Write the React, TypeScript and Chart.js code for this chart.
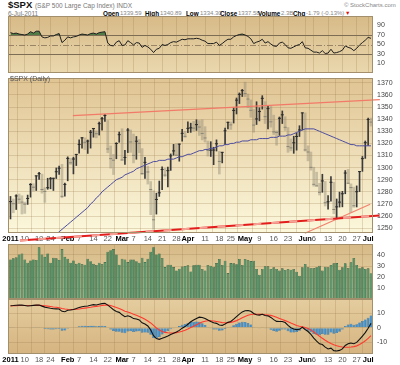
import React, { useEffect, useRef } from "react";
import { Chart, registerables } from "chart.js";
Chart.register(...registerables);

const FONT = '"Liberation Sans", Arial, sans-serif';

// ---------- axis ticks ----------
const tickIdx = [0, 5, 10, 14, 20, 24, 29, 34, 39, 43, 48, 53, 58, 62, 68, 73, 77, 82, 87, 92, 97, 103, 106, 111, 116, 121, 125];
const tickLabels = ["2011", "10", "18", "24", "Feb", "7", "14", "22", "Mar", "7", "14", "21", "28", "Apr", "11", "18", "25", "May", "9", "16", "23", "Jun", "6", "13", "20", "27", "Jul"];
const boldLabels = ["2011", "Feb", "Mar", "Apr", "May", "Jun", "Jul"];
const rsiTicks = [10, 30, 50, 70, 90];
const priceTicks = [1250, 1260, 1270, 1280, 1290, 1300, 1310, 1320, 1330, 1340, 1350, 1360, 1370];
const volTicks = [10, 20, 30, 40];
const macdTicks = [-10, 0, 10];
const X_MIN = -0.87;
const X_MAX = 126.7;

// ---------- price data (daily, 3-Jan-2011 .. 5-Jul-2011) ----------
const prevClose = 1257.6;
const highs = [1276.2, 1274.1, 1277.6, 1278.2, 1276.8, 1271.5, 1277.3, 1286.9, 1286.7, 1293.2,
  1296.1, 1294.6, 1283.4, 1291.2, 1291.9, 1291.3, 1299.7, 1301.3, 1302.7, 1287.2,
  1308.9, 1307.6, 1308.6, 1311.0, 1322.9, 1324.9, 1324.5, 1322.8, 1330.8, 1332.1,
  1330.4, 1337.6, 1341.5, 1344.1, 1338.9, 1317.9, 1310.9, 1320.6, 1329.4, 1332.1,
  1314.2, 1332.3, 1331.1, 1327.7, 1325.7, 1323.2, 1315.7, 1308.4, 1301.2, 1288.5,
  1280.9, 1278.9, 1288.9, 1300.6, 1299.4, 1300.5, 1311.3, 1319.2, 1319.7, 1319.5,
  1331.7, 1329.8, 1337.9, 1336.7, 1338.2, 1339.5, 1338.8, 1339.5, 1333.8, 1321.9,
  1321.4, 1316.8, 1322.9, 1313.4, 1312.7, 1332.7, 1337.5, 1337.6, 1349.6, 1357.5,
  1361.7, 1364.6, 1370.6, 1360.8, 1355.9, 1348.0, 1354.4, 1349.4, 1359.4, 1354.5,
  1351.1, 1350.5, 1343.3, 1330.4, 1341.8, 1346.8, 1342.0, 1333.1, 1323.7, 1325.9,
  1328.5, 1334.6, 1345.2, 1345.2, 1318.0, 1312.9, 1300.3, 1296.2, 1287.0, 1294.5,
  1288.6, 1277.0, 1292.5, 1287.9, 1274.1, 1279.8, 1280.4, 1297.6, 1298.6, 1286.6,
  1283.9, 1284.9, 1296.8, 1309.2, 1322.0, 1341.0, 1340.9];
const lows = [1257.6, 1262.7, 1265.4, 1270.4, 1261.7, 1262.2, 1269.6, 1275.6, 1280.5, 1281.1,
  1290.3, 1278.9, 1271.3, 1282.1, 1282.5, 1281.1, 1291.0, 1294.4, 1275.1, 1276.5,
  1289.1, 1302.6, 1294.8, 1301.7, 1311.9, 1316.0, 1314.9, 1311.7, 1316.1, 1325.1,
  1324.6, 1326.9, 1331.0, 1338.1, 1312.3, 1299.6, 1294.3, 1307.3, 1320.9, 1306.1,
  1302.6, 1312.4, 1312.6, 1303.9, 1306.9, 1312.3, 1294.2, 1291.0, 1286.4, 1261.1,
  1249.1, 1261.6, 1276.2, 1281.7, 1292.7, 1284.1, 1297.7, 1310.2, 1310.2, 1305.3,
  1321.9, 1325.0, 1328.9, 1329.1, 1330.0, 1330.7, 1326.6, 1322.9, 1321.1, 1309.5,
  1309.2, 1302.4, 1313.7, 1294.7, 1303.9, 1319.1, 1332.0, 1331.5, 1336.8, 1344.3,
  1352.9, 1358.7, 1358.6, 1349.5, 1341.5, 1329.2, 1335.6, 1338.6, 1348.3, 1336.4,
  1332.0, 1333.4, 1327.3, 1318.5, 1326.6, 1336.4, 1330.7, 1312.6, 1313.9, 1311.8,
  1314.4, 1325.7, 1331.1, 1313.7, 1305.6, 1297.9, 1284.7, 1284.7, 1277.4, 1279.6,
  1268.3, 1265.6, 1272.2, 1261.9, 1258.1, 1267.4, 1267.6, 1278.4, 1286.8, 1262.9,
  1267.2, 1267.5, 1280.2, 1296.9, 1307.6, 1318.3, 1334.3];
const closes = [1271.9, 1270.2, 1276.6, 1273.9, 1271.5, 1269.8, 1274.5, 1286.0, 1283.8, 1293.2,
  1295.0, 1281.9, 1280.3, 1283.4, 1290.8, 1291.2, 1296.6, 1299.5, 1276.3, 1286.1,
  1307.6, 1304.0, 1307.1, 1310.9, 1319.1, 1324.6, 1320.9, 1321.9, 1329.2, 1332.3,
  1328.0, 1336.3, 1340.4, 1343.0, 1315.4, 1307.4, 1306.1, 1319.9, 1327.2, 1306.3,
  1308.4, 1331.0, 1321.2, 1310.1, 1321.8, 1320.0, 1295.1, 1304.3, 1296.4, 1281.9,
  1256.9, 1273.7, 1279.2, 1298.4, 1293.8, 1297.5, 1309.7, 1313.8, 1310.2, 1319.4,
  1328.3, 1325.8, 1332.4, 1332.9, 1332.6, 1335.5, 1333.5, 1328.2, 1324.5, 1314.2,
  1314.4, 1314.5, 1319.7, 1305.1, 1312.6, 1330.4, 1337.4, 1335.3, 1347.2, 1355.7,
  1360.5, 1363.6, 1361.2, 1356.6, 1347.3, 1335.1, 1340.2, 1346.3, 1357.2, 1342.1,
  1348.7, 1337.8, 1329.5, 1329.0, 1340.7, 1343.6, 1333.3, 1317.4, 1316.3, 1320.5,
  1325.7, 1331.1, 1345.2, 1314.6, 1312.9, 1300.2, 1286.2, 1284.9, 1279.6, 1289.0,
  1271.0, 1271.8, 1287.9, 1265.4, 1267.6, 1271.5, 1278.4, 1295.5, 1287.1, 1283.5,
  1268.5, 1280.1, 1296.7, 1307.4, 1320.6, 1339.7, 1337.6];
const ma50 = [1219, 1221, 1222, 1224, 1225, 1227, 1228, 1230, 1231, 1233,
  1235, 1236, 1238, 1240, 1241, 1243, 1245, 1247, 1249, 1251,
  1253, 1255, 1257, 1259, 1261, 1263, 1265, 1267, 1270, 1272,
  1275, 1277, 1280, 1282, 1284, 1286, 1288, 1290, 1291, 1292,
  1294, 1295, 1296, 1297, 1299, 1300, 1301, 1302, 1303, 1304,
  1305, 1305, 1306, 1306, 1306, 1307, 1307, 1307, 1308, 1309,
  1309, 1310, 1311, 1311, 1312, 1313, 1314, 1314, 1315, 1315,
  1316, 1316, 1317, 1318, 1318, 1319, 1319, 1320, 1320, 1321,
  1321, 1322, 1322, 1322, 1323, 1323, 1323, 1324, 1324, 1324,
  1324, 1325, 1325, 1325, 1326, 1326, 1326, 1327, 1327, 1328,
  1329, 1330, 1331, 1332, 1332, 1332, 1332, 1331, 1330, 1329,
  1328, 1327, 1326, 1325, 1324, 1323, 1322, 1321, 1320, 1319,
  1319, 1318, 1318, 1318, 1318, 1318, 1318];
// trend lines drawn on the price panel (x = day index, y = price)
const resistX = [21.8, 129.1];
const resistY = [1343, 1356.2];
const supportX = [3.3, 129.1];
const supportY = [1239.8, 1260.4];
const riseX = [102.9, 125.7];
const riseY = [1245.8, 1269.8];

// ---------- volume (x 100M) ----------
const volumes = [35.9, 37, 38, 40.5, 41.4, 35.8, 33, 35, 36, 35.5,
  47, 40.5, 38.3, 41.4, 33, 37.6, 37, 35.5, 45.4, 38.3,
  36.7, 33, 35, 32, 33, 31.8, 31.2, 36.7, 34.3, 32,
  31, 33, 31.8, 33.6, 43, 44.4, 45.4, 40.5, 31.2, 36.7,
  35.8, 33.6, 35.8, 36, 34.3, 33, 37.6, 33.6, 36.7, 43,
  47, 40.5, 41.4, 37.3, 29, 31.2, 31.2, 29, 25.9, 27.5,
  29.6, 30, 30.6, 25, 30.6, 31.2, 31.2, 27.3, 25.8, 30.9,
  30.3, 29.4, 32.7, 36.4, 30.9, 34.8, 23.6, 32.7, 32.4, 31.5,
  36.4, 30.9, 36.4, 35.5, 34.5, 34.8, 27.3, 22.1, 27.3, 29.7,
  29.7, 27.3, 28.8, 27.3, 25.8, 27.9, 26.4, 27.3, 26.7, 27.3,
  24.8, 21.2, 28.8, 31.8, 28.8, 27.9, 28.2, 28.8, 30.3, 25.8,
  29.4, 28.8, 30.9, 32.4, 32.7, 26.7, 28.8, 32.4, 28.2, 33.3,
  37.3, 30.9, 27.9, 28.8, 27.3, 27.9, 23.5];

// ---------- RSI(14) ----------
const rsi = [75, 73, 74, 72, 71, 70, 72, 77, 74, 78,
  78, 66, 64, 65, 68, 68, 71, 73, 54, 59,
  66, 64, 66, 67, 70, 72, 71, 70, 73, 74,
  72, 75, 76, 77, 53, 48, 47, 55, 58, 48,
  49, 58, 54, 49, 54, 53, 44, 48, 45, 40,
  33, 40, 42, 50, 48, 50, 54, 56, 55, 58,
  61, 60, 62, 62, 62, 63, 62, 59, 57, 52,
  52, 52, 55, 48, 52, 57, 61, 61, 66, 69,
  71, 72, 70, 67, 62, 52, 55, 57, 61, 53,
  56, 51, 47, 46, 53, 55, 50, 43, 42, 45,
  48, 50, 56, 43, 42, 38, 34, 34, 32, 37,
  31, 32, 40, 32, 33, 35, 38, 47, 44, 42,
  37, 42, 49, 54, 59, 65, 63];

// ---------- MACD(12,26,9) ----------
const macdLine = [15.2, 15.3, 15.5, 15.6, 15.6, 15.3, 15.0, 15.2, 15.4, 15.6,
  15.7, 14.9, 14.2, 13.8, 13.4, 13.1, 13.0, 12.9, 11.3, 11.0,
  12.0, 12.2, 12.6, 13.2, 13.9, 14.5, 14.8, 15.0, 15.5, 15.9,
  15.7, 16.2, 16.6, 16.8, 15.6, 14.0, 12.4, 11.2, 10.6, 8.9,
  7.6, 8.2, 7.6, 6.3, 6.0, 5.4, 3.4, 2.6, 1.2, -1.5,
  -5.5, -7.5, -8.0, -7.3, -6.5, -5.7, -4.6, -3.8, -3.0, -1.8,
  -0.3, 0.8, 2.4, 4.1, 5.3, 6.4, 7.3, 7.0, 6.4, 5.3,
  4.3, 3.4, 3.0, 1.9, 1.6, 2.6, 3.7, 4.3, 5.9, 7.7,
  9.4, 10.9, 11.7, 11.9, 11.3, 9.8, 9.0, 8.7, 9.3, 8.4,
  8.2, 7.1, 5.6, 4.4, 4.3, 4.3, 3.6, 1.6, 0.0, -0.9,
  -1.3, -1.1, 0.3, -1.2, -2.6, -4.6, -7.2, -9.2, -11.1, -11.6,
  -13.4, -14.6, -14.1, -15.8, -16.0, -15.6, -14.6, -12.2, -11.1, -10.5,
  -11.0, -10.1, -8.0, -5.8, -3.4, -0.4, 3.0];
const signalLine = [15.0, 15.1, 15.2, 15.3, 15.3, 15.3, 15.3, 15.3, 15.3, 15.4,
  15.5, 15.3, 15.1, 14.9, 14.6, 14.3, 14.1, 13.8, 13.3, 12.9,
  12.7, 12.6, 12.6, 12.7, 12.9, 13.2, 13.5, 13.8, 14.1, 14.5,
  14.7, 15.0, 15.3, 15.6, 15.6, 15.3, 14.7, 14.0, 13.3, 12.4,
  11.4, 10.8, 10.1, 9.3, 8.6, 7.8, 6.8, 5.8, 4.6, 3.3,
  1.6, -0.2, -1.6, -2.6, -3.2, -3.5, -3.6, -3.6, -3.4, -3.0,
  -2.4, -1.7, -0.9, 0.1, 1.1, 2.1, 3.1, 3.9, 4.5, 4.8,
  4.8, 4.6, 4.3, 3.9, 3.5, 3.4, 3.5, 3.7, 4.2, 4.9,
  5.8, 6.8, 7.8, 8.6, 9.1, 9.3, 9.3, 9.2, 9.2, 9.0,
  8.8, 8.5, 7.9, 7.2, 6.4, 5.6, 4.9, 4.1, 3.2, 2.4,
  1.6, 1.0, 0.6, 0.1, -0.6, -1.5, -2.9, -4.4, -5.9, -7.3,
  -8.6, -9.8, -10.8, -11.7, -12.4, -12.9, -13.3, -13.4, -13.4, -13.3,
  -13.0, -12.5, -11.6, -10.4, -9.0, -7.3, -5.5];
const macdHist = [0.2, 0.2, 0.3, 0.3, 0.3, 0.0, -0.3, -0.1, 0.1, 0.2,
  0.2, -0.4, -0.9, -1.1, -1.2, -1.2, -1.1, -0.9, -2.0, -1.9,
  -0.7, -0.4, 0.0, 0.5, 1.0, 1.3, 1.3, 1.2, 1.4, 1.4,
  1.0, 1.2, 1.3, 1.2, 0.0, -1.3, -2.3, -2.8, -2.7, -3.5,
  -3.8, -2.6, -2.5, -3.0, -2.6, -2.4, -3.4, -3.2, -3.4, -4.8,
  -7.1, -7.3, -6.4, -4.7, -3.3, -2.2, -1.0, -0.2, 0.4, 1.2,
  2.1, 2.5, 3.3, 4.0, 4.2, 4.3, 4.2, 3.1, 1.9, 0.5,
  -0.5, -1.2, -1.3, -2.0, -1.9, -0.8, 0.2, 0.6, 1.7, 2.8,
  3.6, 4.1, 3.9, 3.3, 2.2, 0.5, -0.3, -0.5, 0.1, -0.6,
  -0.6, -1.4, -2.3, -2.8, -2.1, -1.3, -1.3, -2.5, -3.2, -3.3,
  -2.9, -2.1, -0.3, -1.3, -2.0, -3.1, -4.3, -4.8, -5.2, -4.3,
  -4.8, -4.8, -3.3, -4.1, -3.6, -2.7, -1.3, 1.2, 2.3, 2.8,
  2.0, 2.4, 3.6, 4.6, 5.6, 6.9, 8.5];

// ---------- helpers ----------
const pts = (arr: number[]) => arr.map((v, i) => ({ x: i, y: v }));
const pair = (xs: number[], ys: number[]) => xs.map((x, i) => ({ x, y: ys[i] }));

function xScale(showLabels: boolean) {
  return {
    type: "linear",
    min: X_MIN,
    max: X_MAX,
    offset: false,
    afterBuildTicks: (axis: any) => {
      axis.ticks = tickIdx.map((v) => ({ value: v }));
    },
    ticks: {
      display: showLabels,
      autoSkip: false,
      maxRotation: 0,
      minRotation: 0,
      padding: 1,
      callback: (_v: any, i: number) => tickLabels[i],
      font: (c: any) => ({
        family: FONT,
        size: 7.5,
        weight: boldLabels.includes(tickLabels[c.index]) ? "bold" : "normal",
      }),
      color: (c: any) => (boldLabels.includes(tickLabels[c.index]) ? "#000" : "#555"),
    },
    grid: { color: "rgba(150,120,70,0.25)", drawTicks: false, lineWidth: 1 },
    border: { display: false },
    afterFit: (axis: any) => {
      axis.height = showLabels ? 11 : 0;
      axis.paddingLeft = 0;
      axis.paddingRight = 0;
    },
  };
}

function yScale(min: number, max: number, ticks: number[], grid: boolean) {
  return {
    position: "right",
    min,
    max,
    afterBuildTicks: (axis: any) => {
      axis.ticks = ticks.map((v) => ({ value: v }));
    },
    ticks: {
      font: { family: FONT, size: 7 },
      color: "#444",
      padding: 4,
      callback: (v: any) => String(v),
    },
    grid: { display: grid, color: "rgba(150,120,70,0.25)", drawTicks: false },
    border: { display: false },
    afterFit: (axis: any) => {
      axis.width = 27;
      axis.paddingTop = 0;
      axis.paddingBottom = 0;
    },
  };
}

function panelPlugin(top: string, bottom: string) {
  return {
    id: "panelBg",
    beforeDraw(chart: any) {
      const { ctx, chartArea: a } = chart;
      const g = ctx.createLinearGradient(0, a.top, 0, a.bottom);
      g.addColorStop(0, top);
      g.addColorStop(1, bottom);
      ctx.save();
      ctx.fillStyle = g;
      ctx.fillRect(a.left, a.top, a.right - a.left, a.bottom - a.top);
      ctx.restore();
    },
    afterDraw(chart: any) {
      const { ctx, chartArea: a } = chart;
      ctx.save();
      ctx.strokeStyle = "#a48f6c";
      ctx.lineWidth = 1;
      ctx.strokeRect(a.left + 0.5, a.top + 0.5, a.right - a.left - 1, a.bottom - a.top - 1);
      ctx.restore();
    },
  };
}

const rsiRefPlugin = {
  id: "rsiRef",
  beforeDatasetsDraw(chart: any) {
    const { ctx, chartArea: a, scales } = chart;
    const y = scales.y;
    const lines: [number, number[], string][] = [
      [70, [], "#7e6d55"],
      [30, [], "#7e6d55"],
      [50, [6, 2, 1, 2], "#9a8466"],
    ];
    ctx.save();
    ctx.lineWidth = 1;
    lines.forEach(([v, dash, col]) => {
      const py = Math.round(y.getPixelForValue(v)) + 0.5;
      ctx.strokeStyle = col;
      ctx.setLineDash(dash);
      ctx.beginPath();
      ctx.moveTo(a.left, py);
      ctx.lineTo(a.right, py);
      ctx.stroke();
    });
    ctx.restore();
  },
};

const baseOptions = {
  responsive: false,
  animation: false,
  events: [],
  layout: { padding: { left: 8, right: 0, top: 0, bottom: 0 } },
  plugins: { legend: { display: false }, tooltip: { enabled: false } },
};

export default function App() {
  const rsiRef = useRef<HTMLCanvasElement>(null);
  const priceRef = useRef<HTMLCanvasElement>(null);
  const volRef = useRef<HTMLCanvasElement>(null);
  const macdRef = useRef<HTMLCanvasElement>(null);

  useEffect(() => {
    const charts: Chart[] = [];

    charts.push(
      new Chart(rsiRef.current as HTMLCanvasElement, {
        type: "line",
        data: {
          datasets: [
            {
              data: pts(rsi),
              borderColor: "#1e1e1e",
              borderWidth: 1,
              pointRadius: 0,
              tension: 0,
              fill: { target: { value: 70 }, above: "rgba(55,110,55,0.85)", below: "rgba(0,0,0,0)" },
            },
          ],
        },
        options: {
          ...baseOptions,
          scales: { x: xScale(false), y: yScale(-10, 110, rsiTicks, false) },
        } as any,
        plugins: [panelPlugin("#d7ba87", "#ead8ae"), rsiRefPlugin],
      } as any)
    );

    const upBars: any[] = [];
    const downBars: any[] = [];
    const tickColors: string[] = [];
    closes.forEach((c, i) => {
      const prev = i === 0 ? prevClose : closes[i - 1];
      const bar = { x: i, y: [lows[i], highs[i]] };
      if (c >= prev) {
        upBars.push(bar);
        tickColors.push("#2a2a2a");
      } else {
        downBars.push(bar);
        tickColors.push("#8b8677");
      }
    });

    charts.push(
      new Chart(priceRef.current as HTMLCanvasElement, {
        type: "bar",
        data: {
          datasets: [
            {
              type: "line",
              data: pair(resistX, resistY),
              borderColor: "#f27a68",
              borderWidth: 1.3,
              pointRadius: 0,
              clip: false,
              order: 1,
            },
            {
              type: "line",
              data: pair(supportX, supportY),
              borderColor: "#f4a295",
              borderWidth: 2,
              borderDash: [8, 10],
              pointRadius: 0,
              clip: false,
              order: 0,
            },
            {
              type: "line",
              data: pair(supportX, supportY),
              borderColor: "#e31c1c",
              borderWidth: 2,
              pointRadius: 0,
              clip: false,
              order: 1,
            },
            {
              type: "line",
              data: pair(riseX, riseY),
              borderColor: "#f2806e",
              borderWidth: 1.2,
              pointRadius: 0,
              clip: false,
              order: 1,
            },
            {
              type: "line",
              data: pts(ma50),
              borderColor: "#4c4ca0",
              borderWidth: 1,
              pointRadius: 0,
              order: 2,
            },
            {
              type: "line",
              data: pts(closes),
              showLine: false,
              pointStyle: "line",
              pointRadius: 1.5,
              pointBorderWidth: 1,
              pointBorderColor: tickColors,
              pointBackgroundColor: tickColors,
              order: 3,
            },
            {
              type: "bar",
              data: upBars,
              backgroundColor: "#3a3a3a",
              barThickness: 1,
              grouped: false,
              order: 4,
            },
            {
              type: "bar",
              data: downBars,
              backgroundColor: "rgba(140,134,114,0.42)",
              barThickness: 2,
              grouped: false,
              order: 5,
            },
          ],
        },
        options: {
          ...baseOptions,
          scales: { x: xScale(true), y: yScale(1246, 1374, priceTicks, true) },
        } as any,
        plugins: [panelPlugin("#e0c493", "#fcf8dc")],
      } as any)
    );

    charts.push(
      new Chart(volRef.current as HTMLCanvasElement, {
        type: "bar",
        data: {
          datasets: [
            {
              data: pts(volumes),
              backgroundColor: "#4b8e64",
              borderColor: "#2a5a3c",
              borderWidth: 0.6,
              barPercentage: 0.96,
              categoryPercentage: 1,
            },
          ],
        },
        options: {
          ...baseOptions,
          scales: { x: xScale(false), y: yScale(0, 50, volTicks, true) },
        } as any,
        plugins: [panelPlugin("#d6b986", "#ead8ae")],
      } as any)
    );

    charts.push(
      new Chart(macdRef.current as HTMLCanvasElement, {
        type: "bar",
        data: {
          datasets: [
            {
              type: "line",
              data: pts(macdLine),
              borderColor: "#111",
              borderWidth: 1.1,
              pointRadius: 0,
              order: 1,
            },
            {
              type: "line",
              data: pts(signalLine),
              borderColor: "#ff3a2e",
              borderWidth: 1.1,
              pointRadius: 0,
              order: 2,
            },
            {
              type: "bar",
              data: pts(macdHist),
              backgroundColor: "#3c8fcf",
              borderColor: "#2069a8",
              borderWidth: 0.5,
              barPercentage: 0.96,
              categoryPercentage: 1,
              order: 3,
            },
          ],
        },
        options: {
          ...baseOptions,
          scales: { x: xScale(true), y: yScale(-18.1, 19.8, macdTicks, true) },
        } as any,
        plugins: [panelPlugin("#e5cd9f", "#d5b480")],
      } as any)
    );

    return () => charts.forEach((c) => c.destroy());
  }, []);

  const lbl = { fontWeight: "bold" as const, color: "#000", fontSize: 6.3 };
  const val = { color: "#888", fontSize: 6 };
  const abs = (left: number, top: number, extra: any = {}) => ({
    position: "absolute" as const,
    left,
    top,
    whiteSpace: "nowrap" as const,
    lineHeight: "9px",
    ...extra,
  });

  return (
    <div
      style={{
        position: "absolute",
        left: 0,
        top: 0,
        width: 400,
        height: 365,
        background: "#fff",
        fontFamily: FONT,
        overflow: "hidden",
      }}
    >
      <div style={abs(8, 0, { fontSize: 9.5, fontWeight: "bold", color: "#111" })}>
        $SPX{" "}
        <span style={{ fontSize: 6.5, fontWeight: "normal", color: "#777" }}>(S&amp;P 500 Large Cap Index) INDX</span>
      </div>
      <div style={abs(344, 1, { fontSize: 6, color: "#888" })}>© StockCharts.com</div>
      <div style={abs(8, 9, { fontSize: 6.5, color: "#777" })}>6-Jul-2011</div>
      <div style={abs(103, 9, lbl)}>Open</div>
      <div style={abs(120, 9, val)}>1339.59</div>
      <div style={abs(145, 9, lbl)}>High</div>
      <div style={abs(160, 9, val)}>1340.89</div>
      <div style={abs(186, 9, lbl)}>Low</div>
      <div style={abs(200, 9, val)}>1334.30</div>
      <div style={abs(220, 9, lbl)}>Close</div>
      <div style={abs(238, 9, val)}>1337.58</div>
      <div style={abs(258, 9, lbl)}>Volume</div>
      <div style={abs(281, 9, val)}>2.3B</div>
      <div style={abs(293, 9, lbl)}>Chg</div>
      <div style={abs(306, 9, val)}>-1.79 (-0.13%)</div>
      <div style={abs(345, 9, { fontSize: 5.5, color: "#e01010" })}>▼</div>

      <canvas ref={rsiRef} width={400} height={57} style={{ position: "absolute", left: 0, top: 16 }} />
      <canvas ref={priceRef} width={400} height={171} style={{ position: "absolute", left: 0, top: 73 }} />
      <canvas ref={volRef} width={400} height={55} style={{ position: "absolute", left: 0, top: 244 }} />
      <canvas ref={macdRef} width={400} height={66} style={{ position: "absolute", left: 0, top: 299 }} />

      <div style={abs(10, 74, { fontSize: 7, color: "#555" })}>$SPX (Daily)</div>
    </div>
  );
}
